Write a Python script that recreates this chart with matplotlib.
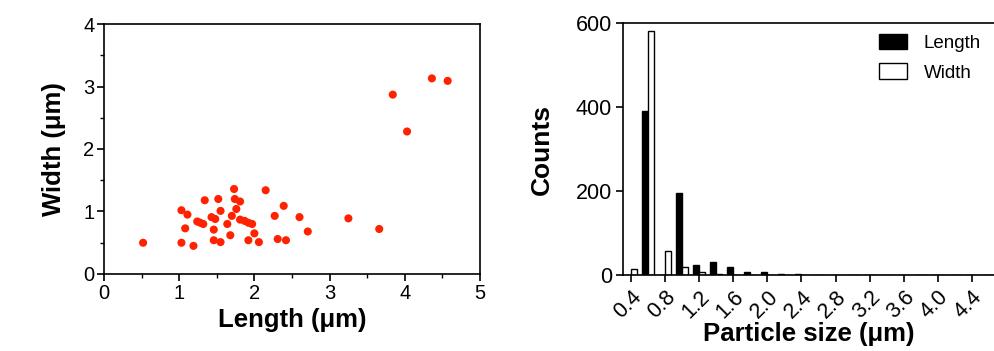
import matplotlib
matplotlib.use("Agg")
import matplotlib.pyplot as plt
from matplotlib.ticker import MultipleLocator
import numpy as np

plt.rcParams['font.family'] = ['Liberation Sans', 'DejaVu Sans']

# Scatter data: Length vs Width (um)
length_um = [0.52, 1.03, 1.03, 1.11, 1.08, 1.19, 1.24, 1.28, 1.32, 1.34,
             1.43, 1.48, 1.46, 1.46, 1.52, 1.55, 1.55, 1.64, 1.68, 1.70,
             1.73, 1.74, 1.76, 1.81, 1.81, 1.87, 1.92, 1.97, 2.00, 1.92,
             2.06, 2.15, 2.27, 2.31, 2.39, 2.42, 2.60, 2.71, 3.25, 3.66,
             4.36, 4.57, 3.84, 4.03]
width_um = [0.50, 0.50, 1.02, 0.95, 0.73, 0.45, 0.84, 0.82, 0.80, 1.18,
            0.91, 0.88, 0.71, 0.54, 1.20, 1.01, 0.51, 0.80, 0.62, 0.93,
            1.36, 1.20, 1.04, 1.16, 0.87, 0.85, 0.82, 0.80, 0.65, 0.54,
            0.51, 1.34, 0.93, 0.56, 1.09, 0.54, 0.91, 0.68, 0.89, 0.72,
            3.13, 3.09, 2.87, 2.28]

# Histogram data
bin_centers = [0.4, 0.6, 0.8, 1.0, 1.2, 1.4, 1.6, 1.8, 2.0, 2.2, 2.4, 2.6,
               2.8, 3.0, 3.2, 3.4, 3.6, 3.8, 4.0, 4.2, 4.4, 4.6]
length_counts = [0, 391, 0, 196, 23, 32, 19, 8, 6, 2, 2, 1,
                 1, 1, 1, 1, 1, 1, 1, 1, 1, 1]
width_counts = [15, 581, 57, 19, 6, 2, 1, 0, 0, 0, 0, 0,
                0, 0, 1, 0, 0, 0, 0, 0, 0, 0]
hist_ticks = [0.4, 0.8, 1.2, 1.6, 2.0, 2.4, 2.8, 3.2, 3.6, 4.0, 4.4]

fig = plt.figure(figsize=(9.94, 3.51), dpi=100)

# ---- Scatter ----
ax1 = fig.add_axes([0.1046, 0.2194, 0.3783, 0.7122])
ax1.scatter(length_um, width_um, s=34, color='#FF2200', edgecolors='none', zorder=3)
ax1.set_xlim(0, 5)
ax1.set_ylim(0, 4)
ax1.xaxis.set_major_locator(MultipleLocator(1))
ax1.xaxis.set_minor_locator(MultipleLocator(0.5))
ax1.yaxis.set_major_locator(MultipleLocator(1))
ax1.yaxis.set_minor_locator(MultipleLocator(0.5))
ax1.tick_params(which='major', direction='out', length=5, width=1.2, labelsize=14.5, pad=2)
ax1.tick_params(which='minor', direction='out', length=3, width=1.0)
for sp in ax1.spines.values():
    sp.set_linewidth(1.2)
ax1.set_xlabel('Length (μm)', fontsize=18.5, fontweight='bold', labelpad=4)
ax1.set_ylabel('Width (μm)', fontsize=18.5, fontweight='bold', labelpad=12)

# ---- Histogram ----
ax2 = fig.add_axes([0.6268, 0.2165, 0.3732, 0.7172])
bw = 0.07
xc = np.array(bin_centers)
ax2.bar(xc - bw / 2, length_counts, width=bw, color='black', edgecolor='black',
        linewidth=1.0, label='Length')
ax2.bar(xc + bw / 2, width_counts, width=bw, color='white', edgecolor='black',
        linewidth=1.0, label='Width')
ax2.set_xlim(0.306, 4.66)
ax2.set_ylim(0, 600)
ax2.set_yticks([0, 200, 400, 600])
ax2.set_xticks(hist_ticks)
ax2.set_xticklabels([f'{t:.1f}' for t in hist_ticks], rotation=45, ha='right',
                    rotation_mode='anchor')
ax2.tick_params(axis='both', direction='out', length=5, width=1.2, labelsize=15.5, pad=3)
ax2.spines['right'].set_visible(False)
for sp in ax2.spines.values():
    sp.set_linewidth(1.2)
ax2.set_xlabel('Particle size (μm)', fontsize=18.5, fontweight='bold', labelpad=0)
ax2.set_ylabel('Counts', fontsize=19, fontweight='bold', labelpad=16)
ax2.legend(loc='upper right', frameon=False, fontsize=13.5, handlelength=1.5,
           handleheight=0.9, handletextpad=0.9, borderaxespad=0.3, labelspacing=0.6,
           bbox_to_anchor=(1.0, 1.01))

fig.savefig('out.png', dpi=100)
